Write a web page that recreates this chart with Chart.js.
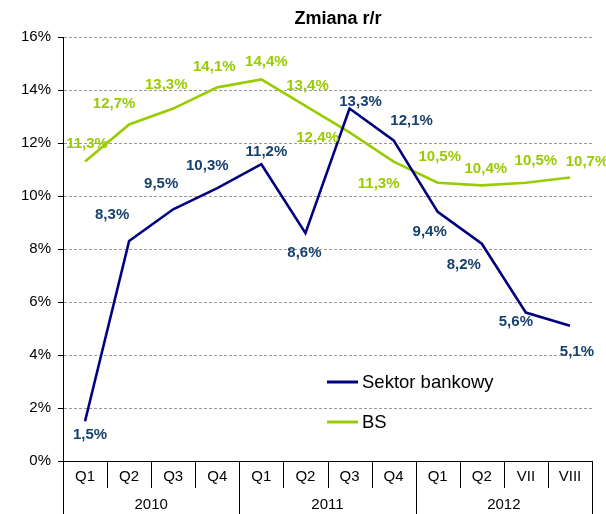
<!DOCTYPE html>
<html>
<head>
<meta charset="utf-8">
<script src="https://cdn.jsdelivr.net/npm/chart.js@4/dist/chart.umd.min.js"></script>
<style>
  html, body { margin: 0; padding: 0; background: #fff; }
  #wrap { width: 606px; height: 514px; position: relative; }
</style>
</head>
<body>
<div id="wrap"><canvas id="c" width="606" height="514"></canvas></div>
<script>
// ---- data ----
const quarters = ['Q1', 'Q2', 'Q3', 'Q4', 'Q1', 'Q2', 'Q3', 'Q4', 'Q1', 'Q2', 'VII', 'VIII'];
const years = ['2010', '2011', '2012'];
const yearSpans = [4, 4, 4];
const sektorValues = [1.5, 8.3, 9.5, 10.3, 11.2, 8.6, 13.3, 12.1, 9.4, 8.2, 5.6, 5.1];
const bsValues = [11.3, 12.7, 13.3, 14.1, 14.4, 13.4, 12.4, 11.3, 10.5, 10.4, 10.5, 10.7];
const yTicks = [0, 2, 4, 6, 8, 10, 12, 14, 16];
const titleText = 'Zmiana r/r';
const seriesNames = ['Sektor bankowy', 'BS'];

// label offsets (pixels, relative to the point) - layout only
const sektorLabelOffsets = [[5, 14], [-17, -26], [-12, -25], [-10, -22], [5, -12], [-1, 20], [11, -7], [18, -19], [-8, 20], [-18, 21], [-10, 9], [7, 26]];
const bsLabelOffsets = [[2, -18], [-15, -21], [-7, -24], [-3, -20], [5, -18], [2, -20], [-32, 5], [-15, 22], [2, -26], [4, -17], [10, -22], [17, -16]];

const FONT = '"Liberation Sans", Arial, sans-serif';
const NAVY = '#000080';
const LABEL_BLUE = '#17406D';
const GREEN = '#99CC00';

const fmt = v => v.toFixed(1).replace('.', ',') + '%';

const decorPlugin = {
  id: 'decor',
  afterDatasetsDraw(chart) {
    const ctx = chart.ctx;
    // data labels
    const offs = [sektorLabelOffsets, bsLabelOffsets];
    const cols = [LABEL_BLUE, GREEN];
    ctx.save();
    ctx.font = 'bold 15px ' + FONT;
    ctx.textAlign = 'center';
    ctx.textBaseline = 'middle';
    chart.data.datasets.forEach((ds, di) => {
      const meta = chart.getDatasetMeta(di);
      ctx.fillStyle = cols[di];
      meta.data.forEach((pt, i) => {
        const o = offs[di][i];
        ctx.fillText(fmt(ds.data[i]), pt.x + o[0], pt.y + o[1]);
      });
    });
    ctx.restore();
  },
  afterDraw(chart) {
    const ctx = chart.ctx;
    const a = chart.chartArea;
    const xs = chart.scales.x;
    const n = quarters.length;
    const w = (a.right - a.left) / n;
    ctx.save();
    // separators
    ctx.strokeStyle = '#000';
    ctx.lineWidth = 1;
    const yearBounds = [0];
    yearSpans.reduce((acc, s) => { yearBounds.push(acc + s); return acc + s; }, 0);
    for (let i = 0; i <= n; i++) {
      const x = Math.round(a.left + i * w) + 0.5;
      const full = yearBounds.includes(i);
      ctx.beginPath();
      ctx.moveTo(x, a.bottom);
      ctx.lineTo(x, full ? chart.height : a.bottom + 27);
      ctx.stroke();
    }
    // quarter labels
    ctx.fillStyle = '#000';
    ctx.font = '15px ' + FONT;
    ctx.textAlign = 'center';
    ctx.textBaseline = 'middle';
    quarters.forEach((q, i) => {
      ctx.fillText(q, xs.getPixelForValue(i), a.bottom + 16);
    });
    // year labels
    let start = 0;
    years.forEach((y, k) => {
      const x0 = a.left + start * w;
      const x1 = a.left + (start + yearSpans[k]) * w;
      ctx.fillText(y, (x0 + x1) / 2, a.bottom + 44);
      start += yearSpans[k];
    });
    // title
    ctx.font = 'bold 18px ' + FONT;
    ctx.fillText(titleText, 338, 19);
    // legend
    const legCols = [NAVY, GREEN];
    const legY = [382, 422];
    ctx.font = '18.5px ' + FONT;
    ctx.textAlign = 'left';
    seriesNames.forEach((name, i) => {
      ctx.strokeStyle = legCols[i];
      ctx.lineWidth = 3;
      ctx.beginPath();
      ctx.moveTo(327, legY[i]);
      ctx.lineTo(358, legY[i]);
      ctx.stroke();
      ctx.fillStyle = '#000';
      ctx.fillText(name, 362, legY[i] + 1);
    });
    ctx.restore();
  }
};

new Chart(document.getElementById('c'), {
  type: 'line',
  data: {
    labels: quarters,
    datasets: [
      { label: seriesNames[0], data: sektorValues, borderColor: NAVY, backgroundColor: NAVY, borderWidth: 2.6, pointRadius: 0, tension: 0, fill: false },
      { label: seriesNames[1], data: bsValues, borderColor: GREEN, backgroundColor: GREEN, borderWidth: 2.6, pointRadius: 0, tension: 0, fill: false }
    ]
  },
  options: {
    responsive: false,
    animation: false,
    devicePixelRatio: 1,
    layout: { padding: { top: 37, right: 14, left: 0, bottom: 0 } },
    plugins: { legend: { display: false }, title: { display: false }, tooltip: { enabled: false } },
    scales: {
      x: {
        type: 'category',
        offset: true,
        grid: { display: false, drawTicks: false },
        border: { display: true, color: '#000', width: 1 },
        ticks: { display: false },
        afterFit: s => { s.height = 53; }
      },
      y: {
        min: 0, max: 16,
        afterFit: s => { s.width = 63; },
        afterBuildTicks: s => { s.ticks = yTicks.map(v => ({ value: v })); },
        grid: { color: '#9a9a9a', lineWidth: 1, tickColor: '#000', tickLength: 5, tickBorderDash: [] },
        border: { display: true, color: '#000', width: 1, dash: [3, 2] },
        ticks: {
          padding: 7,
          color: '#000',
          font: { family: FONT, size: 15 },
          callback: v => v + '%'
        }
      }
    }
  },
  plugins: [decorPlugin]
});
</script>
</body>
</html>
